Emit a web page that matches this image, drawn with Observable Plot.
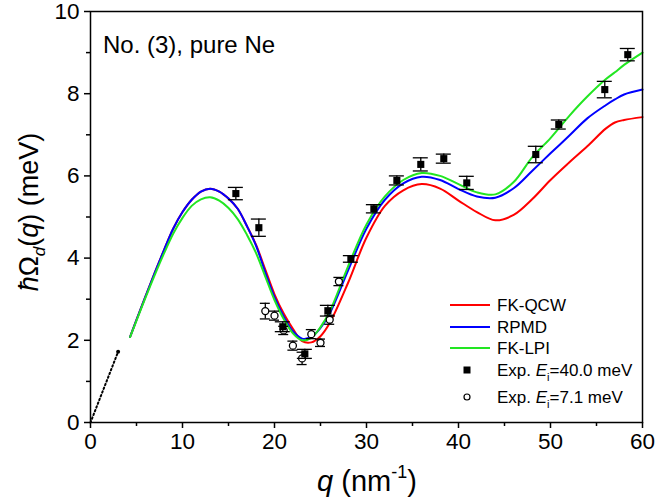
<!DOCTYPE html>
<html><head><meta charset="utf-8">
<script src="https://cdn.jsdelivr.net/npm/d3@7"></script>
<script src="https://cdn.jsdelivr.net/npm/@observablehq/plot@0.6"></script>
<style>body{margin:0;background:#fff} svg{font-family:"Liberation Sans",Arial,sans-serif}</style>
</head><body><div id="chart"></div>
<script>
const qGrid = [4.3,5,6,7,8,9,10,11,12,13,14,15,16,17,18,19,20,21,22,23,24,25,26,28,30,32,34,36,38,40,42,44,46,48,50,52,54,56,57,58,60];
const fkqcw = [2.08,2.5,3.08,3.65,4.2,4.72,5.12,5.42,5.62,5.69,5.62,5.45,5.2,4.78,4.32,3.72,3.12,2.65,2.28,1.98,1.95,2.1,2.42,3.4,4.5,5.27,5.65,5.8,5.69,5.4,5.12,4.92,5.05,5.43,5.9,6.32,6.72,7.15,7.3,7.36,7.43];
const rpmd  = [2.08,2.5,3.08,3.65,4.2,4.72,5.12,5.42,5.62,5.69,5.62,5.45,5.2,4.78,4.3,3.65,3.05,2.58,2.22,2.04,2.08,2.3,2.65,3.7,4.72,5.42,5.82,5.98,5.9,5.68,5.5,5.47,5.7,6.12,6.55,6.97,7.4,7.72,7.86,7.98,8.1];
const fklpi = [2.08,2.48,3.05,3.6,4.12,4.6,4.98,5.27,5.43,5.48,5.4,5.22,4.95,4.57,4.12,3.55,2.98,2.52,2.17,2.0,2.06,2.32,2.7,3.8,4.82,5.5,5.9,6.07,6.0,5.8,5.6,5.55,5.85,6.45,6.92,7.45,7.93,8.35,8.52,8.7,9.0];
// experimental, Ei = 40.0 meV
const q40 = [15.8,18.3,20.9,23.3,25.8,28.3,30.8,33.3,35.9,38.4,40.9,48.4,50.9,55.9,58.4];
const e40 = [5.57,4.74,2.33,1.67,2.72,3.98,5.2,5.89,6.28,6.42,5.83,6.52,7.25,8.10,8.95];
const err40 = [0.15,0.21,0.12,0.11,0.13,0.08,0.1,0.11,0.16,0.11,0.16,0.2,0.11,0.2,0.15];
// experimental, Ei = 7.1 meV
const q71 = [19.0,20.0,21.0,22.0,23.0,24.0,25.0,26.0,27.0];
const e71 = [2.71,2.6,2.24,1.87,1.56,2.15,1.94,2.5,3.43];
const err71 = [0.19,0.11,0.1,0.11,0.15,0.11,0.09,0.11,0.1];
// low-q dotted line
const qLow = [0,3.0];
const eLow = [0,1.72];

const curves = [
  {name:"FK-QCW", vals:fkqcw, color:"#ff0000"},
  {name:"RPMD", vals:rpmd, color:"#0000ff"},
  {name:"FK-LPI", vals:fklpi, color:"#22e622"}
];
const sq = q40.map((q,i)=>({q, y:e40[i], e:err40[i]}));
const ci = q71.map((q,i)=>({q, y:e71[i], e:err71[i]}));
const low = qLow.map((q,i)=>({q, y:eLow[i]}));

const errMarks = (data, half) => [
  Plot.ruleX(data, {x:"q", y1:d=>d.y-d.e, y2:d=>d.y+d.e, stroke:"black", strokeWidth:1.3}),
  Plot.ruleY(data, {y:d=>d.y+d.e, x1:"q", x2:"q", insetLeft:-half, insetRight:-half, stroke:"black", strokeWidth:1.3}),
  Plot.ruleY(data, {y:d=>d.y-d.e, x1:"q", x2:"q", insetLeft:-half, insetRight:-half, stroke:"black", strokeWidth:1.3})
];

const chart = Plot.plot({
  width:657, height:504,
  marginLeft:90, marginRight:15, marginTop:11, marginBottom:82,
  x:{domain:[0,60]}, y:{domain:[0,10]},
  style:{fontFamily:"Liberation Sans, Arial, sans-serif", fontSize:"22px", color:"black", background:"white"},
  marks:[
    Plot.axisX({ticks:d3.range(0,61,10), tickSize:6, tickPadding:5, fontSize:22.5, label:null, strokeWidth:1.5}),
    Plot.axisX({ticks:d3.range(5,60,10), tickSize:4, text:null, label:null, strokeWidth:1.5}),
    Plot.axisY({ticks:d3.range(0,11,2), tickSize:6, tickPadding:5, fontSize:22.5, label:null, strokeWidth:1.5}),
    Plot.axisY({ticks:d3.range(1,10,2), tickSize:4, text:null, label:null, strokeWidth:1.5}),
    Plot.line(low, {x:"q", y:"y", stroke:"black", strokeWidth:2, strokeDasharray:"1.5,2.5"}),
    Plot.dot(low.slice(1), {x:"q", y:"y", r:2, fill:"black"}),
    ...curves.map(c => Plot.line(qGrid, {x:d=>d, y:(d,i)=>c.vals[i], stroke:c.color, strokeWidth:2, curve:"catmull-rom"})),
    ...errMarks(ci, 5),
    Plot.dot(ci, {x:"q", y:"y", r:3.5, fill:"white", stroke:"black", strokeWidth:1.3}),
    ...errMarks(sq, 7.5),
    Plot.dot(sq, {x:"q", y:"y", symbol:"square", r:4, fill:"black"}),
    Plot.frame({stroke:"black", strokeWidth:1.5})
  ]
});
document.getElementById("chart").appendChild(chart);

const svg = d3.select(chart);
const ff = "Liberation Sans, Arial, sans-serif";
// panel label
svg.append("text").attr("x",103).attr("y",53).attr("text-anchor","start").attr("font-size",24).attr("font-family",ff).text("No. (3), pure Ne");
// x label
const xl = svg.append("text").attr("x",367).attr("y",491).attr("text-anchor","middle").attr("font-size",29).attr("font-family",ff);
xl.append("tspan").attr("font-style","italic").text("q");
xl.append("tspan").text(" (nm");
xl.append("tspan").attr("font-size",18).attr("dy",-13).text("-1");
xl.append("tspan").attr("dy",13).text(")");
// y label
const yl = svg.append("text").attr("transform","translate(38,212) rotate(-90)").attr("text-anchor","middle").attr("font-size",27).attr("font-family",ff);
yl.append("tspan").attr("font-style","italic").text("\u0127");
yl.append("tspan").text("\u03A9");
yl.append("tspan").attr("font-style","italic").attr("font-size",17).attr("dy",7).text("d");
yl.append("tspan").attr("dy",-7).text("(");
yl.append("tspan").attr("font-style","italic").text("q");
yl.append("tspan").text(") (meV)");
// legend
const lg = svg.append("g").attr("font-family",ff).attr("font-size",17).attr("text-anchor","start");
const rows = [305,327,348];
curves.forEach((c,i)=>{
  lg.append("line").attr("x1",450).attr("x2",490).attr("y1",rows[i]).attr("y2",rows[i]).attr("stroke",c.color).attr("stroke-width",2);
  lg.append("text").attr("x",497).attr("y",rows[i]+6).text(c.name);
});
lg.append("rect").attr("x",463.5).attr("y",366.5).attr("width",7).attr("height",7).attr("fill","black");
const t1 = lg.append("text").attr("x",497).attr("y",376);
t1.append("tspan").text("Exp. ");
t1.append("tspan").attr("font-style","italic").text("E");
t1.append("tspan").attr("font-size",11).attr("dy",5).text("i");
t1.append("tspan").attr("dy",-5).text("=40.0 meV");
lg.append("circle").attr("cx",467).attr("cy",397).attr("r",3).attr("fill","white").attr("stroke","black").attr("stroke-width",1.2);
const t2 = lg.append("text").attr("x",497).attr("y",403);
t2.append("tspan").text("Exp. ");
t2.append("tspan").attr("font-style","italic").text("E");
t2.append("tspan").attr("font-size",11).attr("dy",5).text("i");
t2.append("tspan").attr("dy",-5).text("=7.1 meV");
</script></body></html>
